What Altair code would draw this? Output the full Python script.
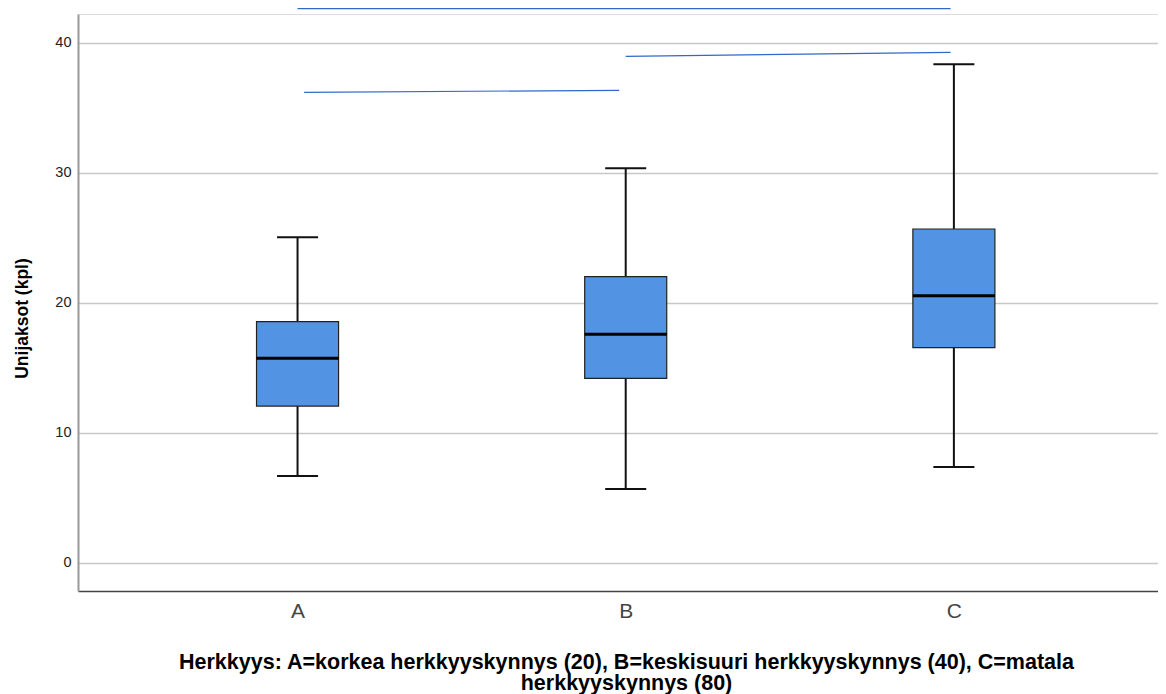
import altair as alt
import pandas as pd

# ---- data ----
groups = ["A", "B", "C"]
positions = [1, 2, 3]
whisker_low = [6.67, 5.67, 7.36]
q1 = [12.05, 14.18, 16.54]
median = [15.72, 17.57, 20.54]
q3 = [18.54, 22.00, 25.67]
whisker_high = [25.03, 30.34, 38.34]

# significance bracket lines (start/end in x-position units and y values)
sig_x_start = [1.02, 2.00, 1.00]
sig_x_end = [1.98, 2.99, 2.99]
sig_y_start = [36.18, 38.95, 42.62]
sig_y_end = [36.34, 39.26, 42.62]

y_ticks = [0, 10, 20, 30, 40]
x_title = ["Herkkyys: A=korkea herkkyyskynnys (20), B=keskisuuri herkkyyskynnys (40), C=matala",
           "herkkyyskynnys (80)"]
y_title = "Unijaksot (kpl)"

box_df = pd.DataFrame({
    "group": groups, "pos": positions, "lo": whisker_low, "q1": q1,
    "med": median, "q3": q3, "hi": whisker_high,
})
sig_df = pd.DataFrame({"x1": sig_x_start, "x2": sig_x_end, "y1": sig_y_start, "y2": sig_y_end})

FONT = "Liberation Sans"
BOX_HALF = 0.125
CAP_HALF = 0.0625

xscale = alt.Scale(domain=[0.331, 3.622], nice=False, zero=False)
yscale = alt.Scale(domain=[-2.18, 42.21], nice=False, zero=False)

xaxis = alt.Axis(
    values=positions,
    labelExpr="datum.value == 1 ? 'A' : datum.value == 2 ? 'B' : 'C'",
    grid=False, ticks=False, domainColor="#444", domainWidth=1.5,
    labelFont=FONT, labelFontSize=21, labelColor="#444", labelPadding=9,
    title=x_title, titleFont=FONT, titleFontSize=21.5, titleFontWeight="bold",
    titleColor="#000", titleX=548, titleY=77, titleAlign="center",
    titleBaseline="alphabetic", titleLineHeight=21,
)
yaxis = alt.Axis(
    values=y_ticks, grid=True, gridColor="#c8c8c8", gridWidth=1.5,
    ticks=False, domainColor="#999", domainWidth=2,
    labelFont=FONT, labelFontSize=14.5, labelColor="#222", labelPadding=7,
    title=y_title, titleFont=FONT, titleFontSize=17.5, titleFontWeight="bold",
    titleColor="#000", titleX=-56, titleY=304, titleAngle=270,
    titleAlign="center", titleBaseline="middle",
)

base = alt.Chart(box_df).transform_calculate(
    left=f"datum.pos - {BOX_HALF}", right=f"datum.pos + {BOX_HALF}",
    cl=f"datum.pos - {CAP_HALF}", cr=f"datum.pos + {CAP_HALF}",
)

X = lambda f: alt.X(f, type="quantitative", scale=xscale, axis=xaxis)
Y = lambda f: alt.Y(f, type="quantitative", scale=yscale, axis=yaxis)

whisk_lo = base.mark_rule(color="#111", strokeWidth=2).encode(x=X("pos"), y=Y("lo"), y2="q1")
whisk_hi = base.mark_rule(color="#111", strokeWidth=2).encode(x=X("pos"), y=Y("q3"), y2="hi")
cap_lo = base.mark_rule(color="#111", strokeWidth=2).encode(x=X("cl"), x2="cr", y=Y("lo"))
cap_hi = base.mark_rule(color="#111", strokeWidth=2).encode(x=X("cl"), x2="cr", y=Y("hi"))
boxes = base.mark_rect(fill="#5393e3", stroke="#222", strokeWidth=1.2).encode(
    x=X("left"), x2="right", y=Y("q1"), y2="q3")
meds = base.mark_rule(color="#000", strokeWidth=3).encode(x=X("left"), x2="right", y=Y("med"))

sig = alt.Chart(sig_df).mark_rule(color="#3068cc", strokeWidth=1.2).encode(
    x=X("x1"), x2="x2", y=Y("y1"), y2="y2")

chart = alt.layer(whisk_lo, whisk_hi, cap_lo, cap_hi, boxes, meds, sig).properties(
    width=1080, height=577,
    autosize=alt.AutoSizeParams(type="none"),
    padding={"left": 70, "top": 6, "right": 0, "bottom": 106},
).configure_view(stroke=None).configure(background="white")

chart.save("out.html", embed_options={"renderer": "svg", "actions": False})
